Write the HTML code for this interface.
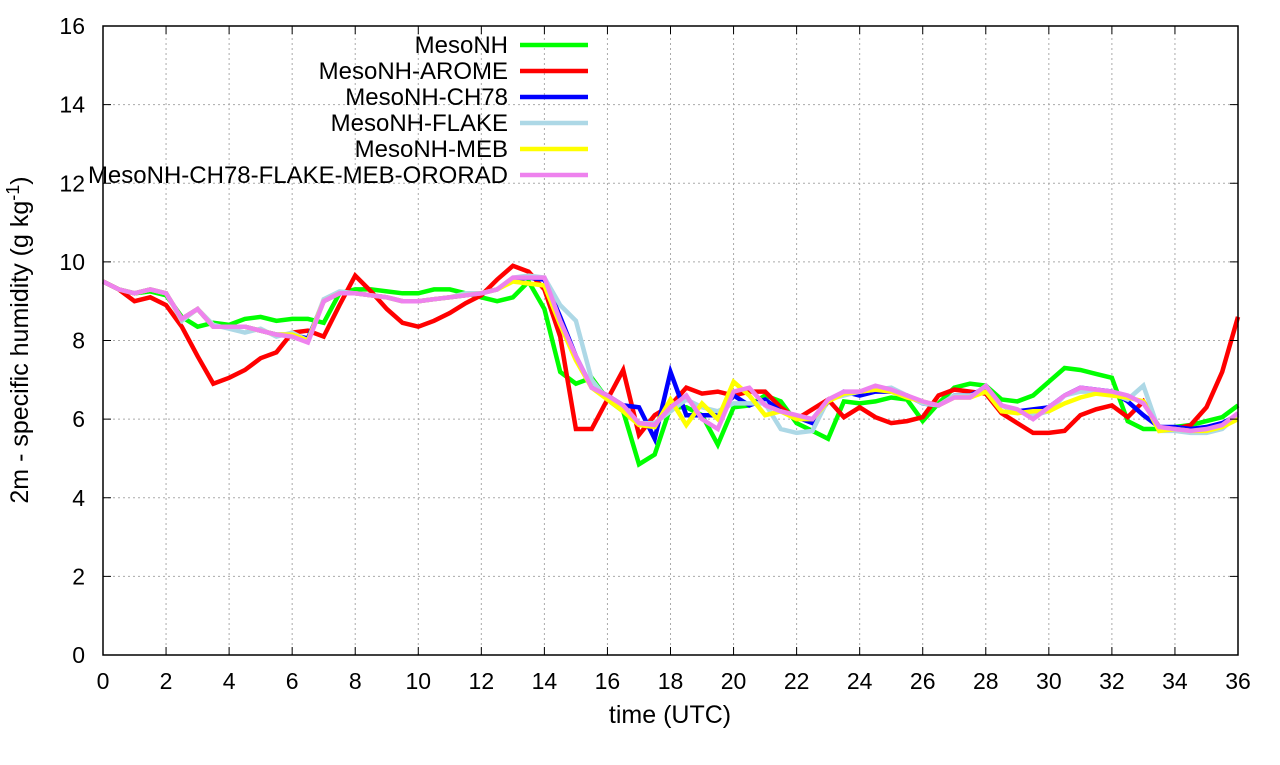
<!DOCTYPE html>
<html><head><meta charset="utf-8"><style>
body{margin:0;background:#fff;}
svg text{font-family:"Liberation Sans",sans-serif;fill:#000;}
</style></head><body>
<svg id="chart" width="1280" height="760" xmlns="http://www.w3.org/2000/svg">
<g id="grid"></g>
<g id="series"></g>
<rect x="103" y="26" width="1135" height="629" fill="none" stroke="#000" stroke-width="1.5"/>
<g id="ticks"></g>
<text x="670" y="723" font-size="25" text-anchor="middle">time (UTC)</text>
<text transform="translate(28,340) rotate(-90)" font-size="25" text-anchor="middle">2m - specific humidity (g kg<tspan dy="-9" font-size="18">-1</tspan><tspan dy="9">)</tspan></text>
<g id="legend"></g>
</svg>
<script>
const xTicks=[0,2,4,6,8,10,12,14,16,18,20,22,24,26,28,30,32,34,36];
const yTicks=[0,2,4,6,8,10,12,14,16];
const seriesNames=["MesoNH","MesoNH-AROME","MesoNH-CH78","MesoNH-FLAKE","MesoNH-MEB","MesoNH-CH78-FLAKE-MEB-ORORAD"];
const seriesColors=["#00ff00","#ff0000","#0000ff","#add8e6","#ffff00","#ee82ee"];
const mesonh=[9.5,9.3,9.2,9.25,9.15,8.6,8.35,8.45,8.4,8.55,8.6,8.5,8.55,8.55,8.45,9.2,9.3,9.3,9.25,9.2,9.2,9.3,9.3,9.2,9.1,9.0,9.1,9.5,8.8,7.2,6.9,7.05,6.5,6.2,4.85,5.1,6.3,6.3,6.1,5.35,6.3,6.35,6.6,6.45,5.9,5.7,5.5,6.45,6.4,6.45,6.55,6.5,5.95,6.4,6.8,6.9,6.85,6.5,6.45,6.6,6.95,7.3,7.25,7.15,7.05,5.95,5.75,5.75,5.8,5.85,5.95,6.05,6.35];
const arome=[9.5,9.3,9.0,9.1,8.9,8.35,7.6,6.9,7.05,7.25,7.55,7.7,8.2,8.25,8.1,8.9,9.65,9.25,8.8,8.45,8.35,8.5,8.7,8.95,9.15,9.55,9.9,9.75,9.3,8.1,5.75,5.75,6.5,7.25,5.6,6.1,6.35,6.8,6.65,6.7,6.6,6.7,6.7,6.3,6.0,6.25,6.5,6.05,6.3,6.05,5.9,5.95,6.05,6.6,6.75,6.7,6.65,6.15,5.9,5.65,5.65,5.7,6.1,6.25,6.35,6.05,6.45,5.8,5.75,5.85,6.3,7.2,8.6];
const ch78=[9.5,9.3,9.2,9.3,9.2,8.55,8.8,8.35,8.35,8.35,8.25,8.15,8.15,8.05,9.0,9.2,9.2,9.15,9.1,9.0,9.0,9.05,9.1,9.15,9.2,9.3,9.55,9.6,9.55,8.6,7.6,6.8,6.6,6.35,6.3,5.5,7.2,6.1,6.1,6.1,6.6,6.35,6.5,6.2,6.05,5.9,6.45,6.7,6.6,6.7,6.7,6.6,6.4,6.35,6.6,6.6,6.8,6.35,6.2,6.25,6.3,6.6,6.8,6.75,6.7,6.45,6.1,5.8,5.8,5.75,5.8,5.9,6.1];
const flake=[9.5,9.3,9.2,9.3,9.2,8.5,8.8,8.4,8.3,8.2,8.3,8.1,8.2,8.0,9.05,9.25,9.2,9.15,9.1,9.0,9.0,9.05,9.1,9.2,9.2,9.3,9.6,9.65,9.6,8.9,8.5,7.0,6.5,6.3,5.9,5.9,6.2,6.5,6.3,6.2,6.4,6.4,6.4,5.75,5.65,5.7,6.5,6.6,6.7,6.75,6.8,6.6,6.4,6.35,6.6,6.6,6.7,6.35,6.2,6.1,6.2,6.6,6.7,6.7,6.65,6.5,6.85,5.7,5.7,5.65,5.65,5.75,6.1];
const meb=[9.5,9.3,9.2,9.3,9.2,8.55,8.8,8.35,8.35,8.35,8.25,8.15,8.15,8.0,9.0,9.2,9.2,9.15,9.1,9.0,9.0,9.05,9.1,9.15,9.2,9.3,9.5,9.45,9.4,8.4,7.5,6.8,6.5,6.2,5.85,5.8,6.5,5.85,6.4,6.0,6.95,6.6,6.1,6.2,6.0,6.0,6.45,6.65,6.7,6.75,6.7,6.55,6.45,6.35,6.55,6.55,6.7,6.2,6.15,6.2,6.2,6.4,6.55,6.65,6.6,6.55,6.45,5.7,5.75,5.7,5.7,5.8,6.0];
const ororad=[9.5,9.3,9.2,9.3,9.2,8.55,8.8,8.35,8.35,8.35,8.25,8.15,8.1,7.95,9.0,9.2,9.2,9.15,9.1,9.0,9.0,9.05,9.1,9.15,9.2,9.3,9.6,9.6,9.6,8.5,7.6,6.8,6.6,6.35,5.9,5.85,6.3,6.6,6.0,5.75,6.7,6.8,6.35,6.2,6.1,6.0,6.5,6.7,6.7,6.85,6.75,6.6,6.45,6.35,6.55,6.55,6.85,6.35,6.25,6.0,6.3,6.6,6.8,6.75,6.7,6.6,6.4,5.8,5.75,5.7,5.75,5.85,6.15];
const seriesData=[mesonh,arome,ch78,flake,meb,ororad];

const NS="http://www.w3.org/2000/svg";
const X0=103,X1=1238,Y0=655,Y1=26;
function xs(t){return X0+(t/36)*(X1-X0);}
function ys(v){return Y0-(v/16)*(Y0-Y1);}
function mk(tag,attrs,parent){const e=document.createElementNS(NS,tag);for(const k in attrs)e.setAttribute(k,attrs[k]);parent.appendChild(e);return e;}
const grid=document.getElementById('grid'),ticks=document.getElementById('ticks'),sg=document.getElementById('series'),lg=document.getElementById('legend');
xTicks.forEach(t=>{
  const x=xs(t);
  if(t>0&&t<36){const g=mk('line',{x1:x,x2:x,y1:Y0,y2:Y1,stroke:'#aaa','stroke-width':1,'stroke-dasharray':'2,3'},grid);
  
  }
  const a=mk('line',{x1:x,x2:x,y1:Y0,y2:Y0-8,stroke:'#000'},ticks);
  
  
  const b=mk('line',{x1:x,x2:x,y1:Y1,y2:Y1+8,stroke:'#000'},ticks);
  
  
  const l=mk('text',{x:x,y:689,'font-size':23,'text-anchor':'middle'},ticks);l.textContent=t;
  
  
});
yTicks.forEach(v=>{
  const y=ys(v);
  if(v>0&&v<16){const g=mk('line',{x1:X0,x2:X1,y1:y,y2:y,stroke:'#aaa','stroke-width':1,'stroke-dasharray':'2,3'},grid);
  
  }
  const a=mk('line',{x1:X0,x2:X0+8,y1:y,y2:y,stroke:'#000'},ticks);
  
  
  const b=mk('line',{x1:X1,x2:X1-8,y1:y,y2:y,stroke:'#000'},ticks);
  
  
  const l=mk('text',{x:85,y:y+8,'font-size':23,'text-anchor':'end'},ticks);l.textContent=v;
  
  
});
seriesData.forEach((d,i)=>{
  const pts=d.map((v,j)=>xs(j*0.5).toFixed(1)+','+ys(v).toFixed(1)).join(' ');
  const p=mk('polyline',{points:pts,fill:'none',stroke:seriesColors[i],'stroke-width':4.5,'stroke-linejoin':'miter'},sg);
  
  
  const y=45+i*26;
  const t=mk('text',{x:508,y:y+8,'font-size':24,'text-anchor':'end'},lg);t.textContent=seriesNames[i];
  
  
  const s=mk('line',{x1:520,x2:588,y1:y,y2:y,stroke:seriesColors[i],'stroke-width':4.5},lg);
  
  
});
</script>
</body></html>
